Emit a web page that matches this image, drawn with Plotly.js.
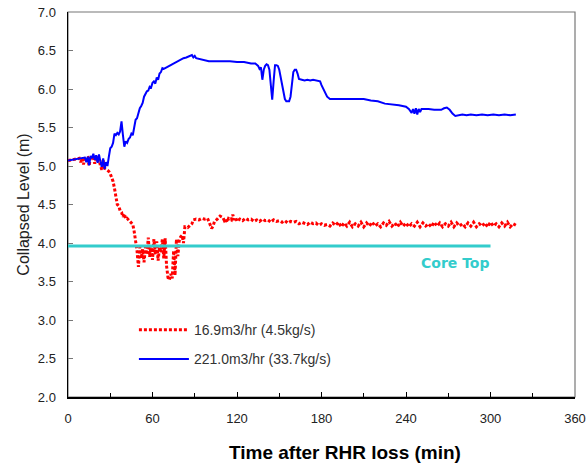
<!DOCTYPE html>
<html>
<head>
<meta charset="utf-8">
<script src="https://cdn.plot.ly/plotly-3.0.1.min.js"></script>
<style>html,body{margin:0;padding:0;background:#fff;}#chart{width:588px;height:468px;}</style>
</head>
<body>
<div id="chart"></div>
<script>
// Blue series: 221.0 m3/hr (33.7 kg/s)
const blueT = [0,3,6,9,12,13,14,15,16,17,18,19,20,21,22,23,24,25,26,27,28,29,30,31,32,33,34,35,36,37,38,39,40,41,42,43,44,45,46,47,48,49,50,51,52,53,54,55,56,57,58,59,60,61,62,63,64,65,66,67,68,70,72,74,76,78,80,82,84,86,88,89,90,91,93,95,97,100,105,110,115,120,125,130,133,135,136,137,138,139,140,141,142,143,144,145,146,147,148,149,150,151,152,153,154,155,157,158,159,160,161,162,163,164,166,168,170,172,174,176,178,179,180,182,184,186,190,200,210,215,220,225,230,235,240,242,244,245,246,247,248,249,250,251,253,256,260,265,267,269,271,273,275,278,280,283,286,290,294,298,302,306,310,314,318];
const blueV = [5.07,5.08,5.09,5.10,5.11,5.05,5.12,5.01,5.13,5.10,5.16,5.08,5.14,5.04,5.15,5.06,4.99,5.10,4.96,5.05,5.00,5.12,5.23,5.25,5.30,5.42,5.40,5.43,5.41,5.45,5.58,5.40,5.25,5.32,5.30,5.35,5.37,5.42,5.40,5.50,5.60,5.62,5.70,5.75,5.78,5.82,5.90,5.93,5.97,5.98,6.03,6.02,6.08,6.10,6.07,6.15,6.12,6.20,6.22,6.27,6.26,6.28,6.30,6.33,6.34,6.36,6.38,6.40,6.41,6.42,6.44,6.41,6.43,6.40,6.39,6.38,6.37,6.36,6.36,6.36,6.36,6.35,6.35,6.33,6.33,6.30,6.26,6.28,6.12,6.25,6.30,6.32,6.31,6.25,6.00,5.86,6.10,6.31,6.31,6.30,6.25,6.15,6.05,5.95,5.87,5.84,5.84,5.90,6.10,6.22,6.25,6.25,6.20,6.13,6.12,6.11,6.12,6.11,6.12,6.11,6.11,6.10,6.05,5.98,5.90,5.87,5.87,5.87,5.87,5.85,5.84,5.81,5.80,5.79,5.77,5.74,5.69,5.74,5.68,5.75,5.67,5.74,5.70,5.74,5.74,5.74,5.73,5.73,5.75,5.76,5.73,5.68,5.65,5.66,5.67,5.66,5.67,5.66,5.67,5.66,5.67,5.66,5.67,5.66,5.67];

// Red series: 16.9 m3/hr (4.5 kg/s)
const redT = [0,3,6,8,9,10,11,12,14,15,16,18,19,20,21,22,23,24,25,26,27,28,29,30,31,32,33,34,35,36,37,38,39,40,41,42,43,44,45,46,47,48,49,50,51,52,53,54,55,56,57,58,59,60,61,62,63,64,65,66,67,68,69,70,71,72,73,74,75,76,77,78,79,80,81,82,83,85,87,88,89,91,93,95,97,99,100,101,102,103,104,106,108,110,111,112,113,114,116,117,118,119,120,
  122,124,126,128,130,132,134,136,138,140,142,144,146,148,150,152,154,156,158,160,162,164,166,168,170,172,174,176,178,180,182,184,186,188,190,
  192,194,196,198,200,202,204,206,208,210,212,214,216,218,220,222,224,226,228,230,232,234,236,238,240,242,244,246,248,250,252,254,256,258,260,262,264,266,268,270,272,274,276,278,280,282,284,286,288,290,292,294,296,298,300,302,304,306,308,310,312,314,316,318];
const redV = [5.07,5.08,5.09,5.10,5.05,5.10,5.02,5.10,5.11,5.00,5.12,5.10,5.03,5.13,5.06,5.08,5.01,4.95,5.08,4.97,4.96,4.95,4.93,4.90,4.85,4.80,4.71,4.60,4.50,4.48,4.42,4.40,4.34,4.38,4.31,4.32,4.30,4.29,4.27,4.24,4.15,4.05,3.90,3.69,3.95,3.80,3.92,3.75,3.95,3.85,4.07,3.82,3.97,3.78,4.05,3.85,4.02,3.77,3.95,3.88,4.05,3.80,4.06,3.70,3.55,3.52,3.60,3.54,3.90,3.58,4.05,3.83,4.03,4.08,4.10,4.00,4.21,4.20,4.23,4.25,4.30,4.31,4.30,4.32,4.31,4.32,4.28,4.22,4.19,4.22,4.28,4.31,4.35,4.33,4.29,4.31,4.27,4.32,4.30,4.37,4.30,4.33,4.28,
  4.31,4.29,4.32,4.30,4.31,4.28,4.30,4.28,4.31,4.29,4.30,4.27,4.30,4.28,4.29,4.27,4.29,4.26,4.28,4.27,4.28,4.25,4.27,4.26,4.24,4.27,4.25,4.26,4.23,4.25,4.23,4.24,4.22,4.26,4.23,
  4.27,4.21,4.26,4.22,4.27,4.21,4.25,4.22,4.27,4.21,4.26,4.22,4.27,4.22,4.25,4.21,4.26,4.23,4.28,4.22,4.26,4.21,4.27,4.22,4.26,4.21,4.25,4.22,4.27,4.21,4.26,4.22,4.25,4.21,4.27,4.22,4.26,4.21,4.25,4.22,4.27,4.21,4.26,4.22,4.25,4.21,4.26,4.22,4.27,4.21,4.25,4.22,4.26,4.21,4.27,4.22,4.25,4.21,4.26,4.22,4.27,4.21,4.25,4.23,4.27];

// Core top reference line
const coreT = [0, 300];
const coreV = [3.96, 3.96];

const xTickVals = [0,60,120,180,240,300,360];
const yTickVals = [2.0,2.5,3.0,3.5,4.0,4.5,5.0,5.5,6.0,6.5,7.0];

const traces = [
  {x: redT, y: redV, type: 'scatter', mode: 'lines', name: '16.9m3/hr (4.5kg/s)',
   legendgroup: 'a', line: {color: '#ff0000', width: 3, dash: '3px,2px'}},
  {x: blueT, y: blueV, type: 'scatter', mode: 'lines', name: '221.0m3/hr (33.7kg/s)',
   legendgroup: 'b', line: {color: '#0000ff', width: 2}},
  {x: coreT, y: coreV, type: 'scatter', mode: 'lines', showlegend: false,
   line: {color: '#33cccc', width: 3}}
];

const font = 'Liberation Sans, Arial, sans-serif';
const layout = {
  width: 588, height: 468,
  margin: {l: 68, r: 13, t: 12, b: 71},
  paper_bgcolor: '#fff', plot_bgcolor: '#fff',
  showlegend: true,
  legend: {x: 0.13, y: 0.215, xanchor: 'left', yanchor: 'top', itemwidth: 50,
    bgcolor: 'rgba(0,0,0,0)', tracegroupgap: 8,
    font: {family: font, size: 14, color: '#333'}},
  xaxis: {range: [0, 360], tickvals: xTickVals, ticktext: xTickVals.map(String),
    ticks: 'inside', ticklen: 5, tickcolor: '#000', showgrid: false, zeroline: false,
    showline: true, linecolor: '#000', linewidth: 1.5, ticklabelstandoff: 9,
    minor: {dtick: 30, tick0: 0, ticks: 'inside', ticklen: 4, tickcolor: '#000', showgrid: false},
    tickfont: {family: font, size: 13, color: '#222'}},
  yaxis: {range: [2.0, 7.0], tickvals: yTickVals, ticktext: yTickVals.map(v => v.toFixed(1)),
    ticks: 'inside', ticklen: 5, tickcolor: '#777', showgrid: false, zeroline: false,
    showline: true, linecolor: '#000', linewidth: 1.5, ticklabelstandoff: 8,
    tickfont: {family: font, size: 13, color: '#222'},
    title: {text: 'Collapsed Level (m)', standoff: 4,
      font: {family: font, size: 16, color: '#222'}}},
  shapes: [{type: 'rect', xref: 'paper', yref: 'paper', x0: 0, x1: 1, y0: 0, y1: 1,
    line: {color: '#777', width: 1.2}, layer: 'below'}],
  annotations: [
    {x: 275, y: 3.74, xref: 'x', yref: 'y', text: 'Core Top', showarrow: false,
     font: {family: 'DejaVu Sans, sans-serif', size: 14, color: '#33cccc', weight: 'bold'}},
    {x: 0.546, y: -0.143, xref: 'paper', yref: 'paper', xanchor: 'center', yanchor: 'middle',
     text: 'Time after RHR loss (min)', showarrow: false,
     font: {family: font, size: 19, color: '#000', weight: 'bold'}}
  ]
};

Plotly.newPlot('chart', traces, layout, {displayModeBar: false, staticPlot: true});
</script>
</body>
</html>
